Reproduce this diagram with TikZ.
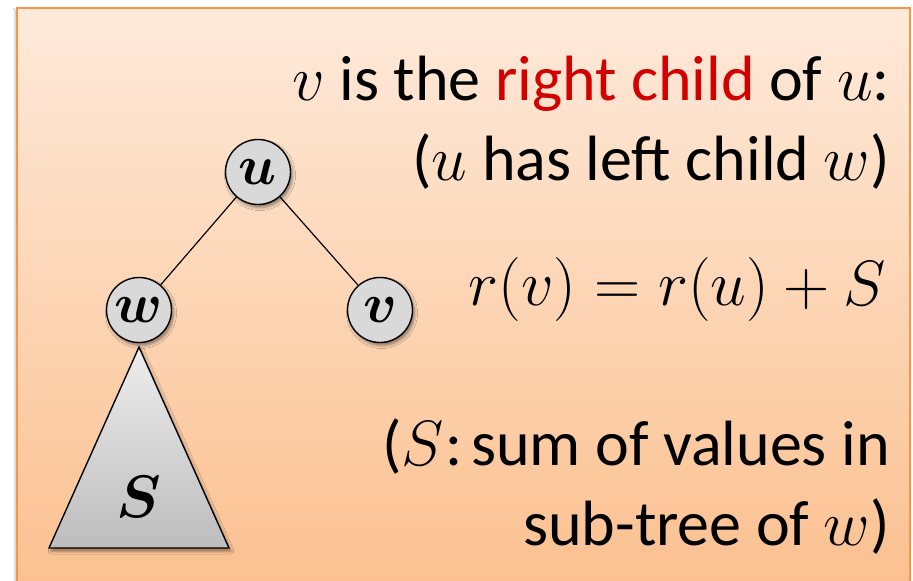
\RequirePackage{fix-cm}
\documentclass[tikz,border=0pt]{standalone}
\usepackage{bm}
\usepackage{fontspec}
\setmainfont{Carlito}
\usetikzlibrary{shadows.blur}
\definecolor{boxtop}{RGB}{254,234,218}
\definecolor{boxbot}{RGB}{251,191,141}
\definecolor{boxline}{RGB}{247,150,70}
\definecolor{nodefill}{RGB}{217,217,217}
\definecolor{redtext}{RGB}{210,0,0}
\tikzset{
  treenode/.style={circle, draw=black, line width=1.4pt, fill=nodefill, minimum size=65pt, inner sep=0pt,
    font=\fontsize{56}{60}\selectfont,
    blur shadow={shadow xshift=2pt, shadow yshift=-3pt, shadow blur radius=3pt, shadow opacity=45}},
  subtree/.style={draw=black, line width=1.4pt, top color=black!7, bottom color=black!26,
    blur shadow={shadow xshift=2pt, shadow yshift=-3pt, shadow blur radius=3pt, shadow opacity=45}},
  edge/.style={draw=black, line width=1.2pt},
  txt/.style={anchor=base east, inner sep=0pt, font=\fontsize{64}{77}\selectfont},
  bgbox/.style={draw=boxline, line width=1.5pt, top color=boxtop, bottom color=boxbot}
}
\begin{document}
\begin{tikzpicture}[x=1pt,y=-1pt]
\useasboundingbox (0,0) rectangle (913,581);
\clip (0,0) rectangle (913,581);
\fill[white] (0,0) rectangle (913,581);
\path[bgbox, blur shadow={shadow xshift=-2pt, shadow yshift=-2pt, shadow blur radius=2pt, shadow opacity=25}] (17,8) rectangle (910,610);
% subtree triangle
\path[subtree] (139,347) -- (229,548) -- (49,548) -- cycle;
\node[inner sep=0pt, font=\fontsize{60}{60}\selectfont] (S) at (139,497) {$\bm{S}$};
% nodes
\node[treenode] (u) at (258,172) {$\bm{u}$};
\node[treenode] (w) at (139,310) {$\bm{w}$};
\node[treenode] (v) at (380,310) {$\bm{v}$};
\draw[edge] (u) -- (w);
\draw[edge] (u) -- (v);
% texts
\node[txt] (t1) at (890,100) {$v$ is the \textcolor{redtext}{right child} of $u$:};
\node[txt] (t2) at (890,180) {($u$ has left child $w$)};
\node[txt] (t3) at (886,305) {$r(v)=r(u)+S$};
\node[txt] (t4) at (890,465) {($S$\kern0.02em:\hspace{0.14em}sum of values in};
\node[txt] (t5) at (890,545) {sub-tree of $w$)};
\end{tikzpicture}
\end{document}
